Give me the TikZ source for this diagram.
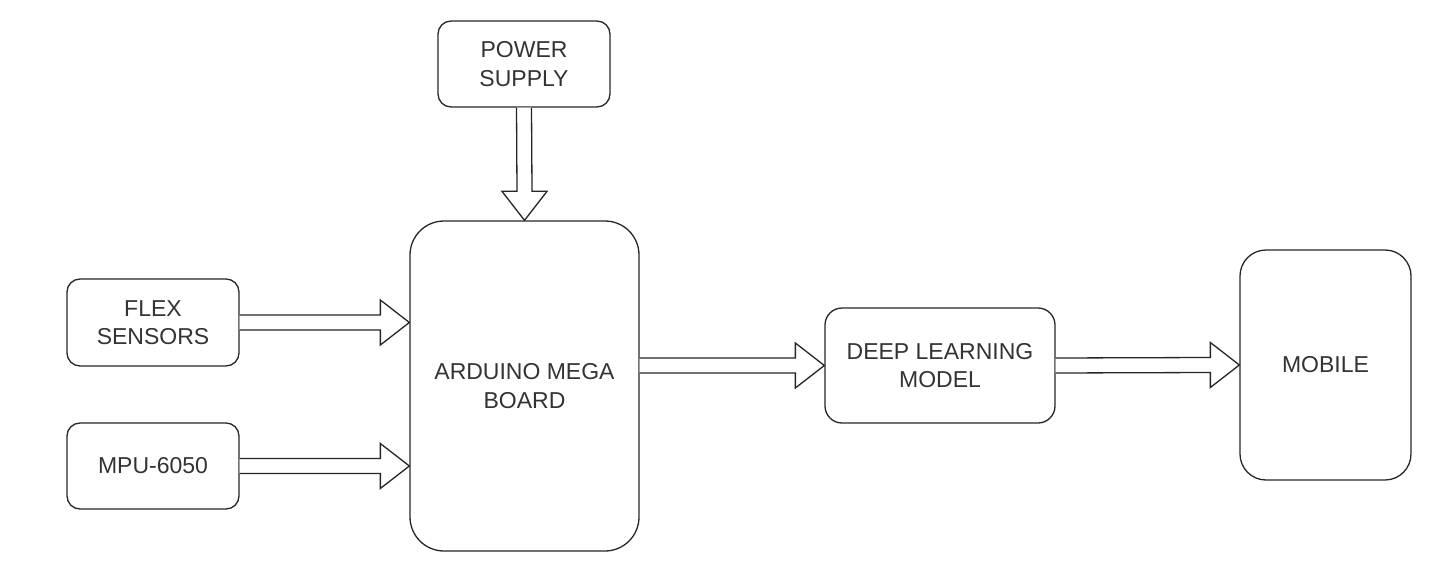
\documentclass[tikz,border=0pt]{standalone}
\usepackage{fontspec}
\setmainfont{Liberation Sans}
\usepackage{tikz}
\usetikzlibrary{calc}

\newcommand{\HArrow}[2]{%
  \draw[FlowStyle] ($(#1)+(0,-7.5)$) -- ($(#2)+(-29,-7.5)$) -- ($(#2)+(-29,-22.5)$)
    -- (#2) -- ($(#2)+(-29,22.5)$) -- ($(#2)+(-29,7.5)$) -- ($(#1)+(0,7.5)$);}
\newcommand{\VArrow}[2]{%
  \draw[FlowStyle] ($(#1)+(-7.5,0)$) -- ($(#2)+(-7.5,-29)$) -- ($(#2)+(-22.5,-29)$)
    -- (#2) -- ($(#2)+(22.5,-29)$) -- ($(#2)+(7.5,-29)$) -- ($(#1)+(7.5,0)$);}

\begin{document}
\begin{tikzpicture}[x=1pt,y=-1pt]
  \tikzstyle{BlockStyle}=[draw=black!85,line width=1.3pt,align=center,inner sep=0pt,
    font=\fontsize{23}{28.5}\selectfont,text=black!80]
  \tikzstyle{FlowStyle}=[draw=black!85,line width=1.3pt,fill=white,line join=miter]
  \useasboundingbox (0,0) rectangle (1450,572);
  \node[BlockStyle,rounded corners=13pt,minimum width=172pt,minimum height=86pt] (power) at (524,64) {POWER\\SUPPLY};
  \node[BlockStyle,rounded corners=34pt,minimum width=229pt,minimum height=330pt] (arduino) at (524.5,386) {ARDUINO MEGA\\BOARD};
  \node[BlockStyle,rounded corners=13pt,minimum width=172pt,minimum height=87pt] (flex) at (153,322.5) {FLEX\\SENSORS};
  \node[BlockStyle,rounded corners=13pt,minimum width=172pt,minimum height=86pt] (mpu) at (153,466) {MPU-6050};
  \node[BlockStyle,rounded corners=17pt,minimum width=230pt,minimum height=115pt] (deep) at (940,365.5) {DEEP LEARNING\\MODEL};
  \node[BlockStyle,rounded corners=26pt,minimum width=171pt,minimum height=230pt] (mobile) at (1325.5,365) {MOBILE};
  \coordinate (flexin) at (flex.east -| arduino.west);
  \coordinate (mpuin) at (mpu.east -| arduino.west);
  \coordinate (ardout) at (arduino.east |- deep.west);
  % block arrows
  \VArrow{power.south}{arduino.north}
  \HArrow{flex.east}{flexin}
  \HArrow{mpu.east}{mpuin}
  \HArrow{ardout}{deep.west}
  \HArrow{deep.east}{mobile.west}
\end{tikzpicture}
\end{document}
